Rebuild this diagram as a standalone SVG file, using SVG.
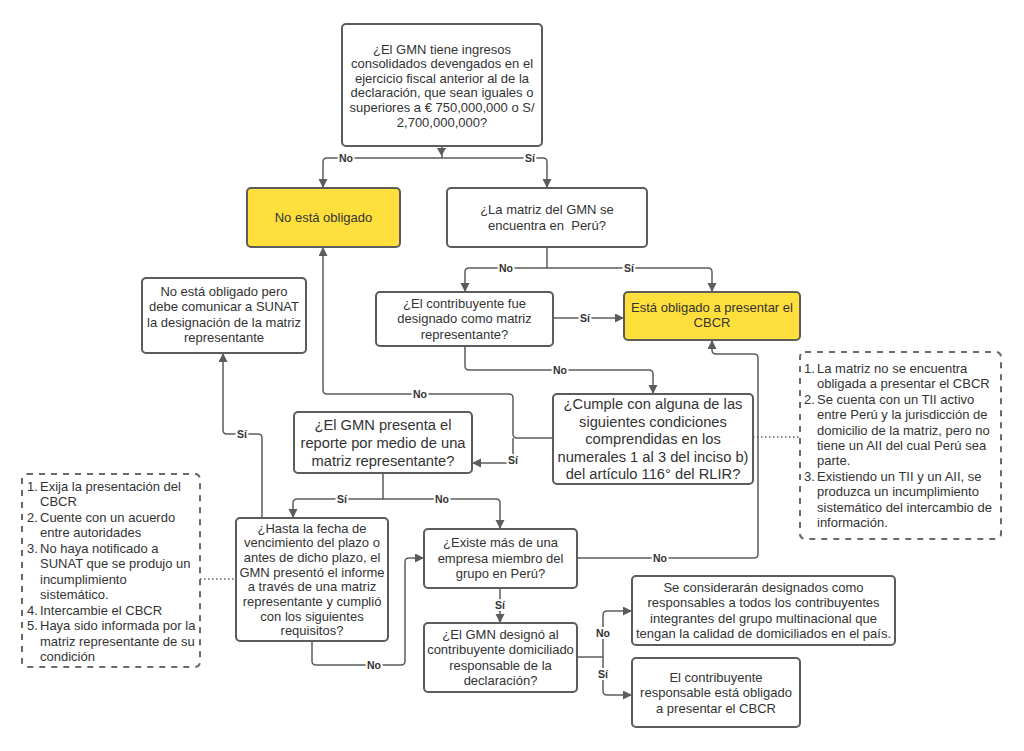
<svg xmlns="http://www.w3.org/2000/svg" width="1024" height="751" viewBox="0 0 1024 751">
<defs>
<marker id="ah" markerWidth="10" markerHeight="10" refX="9" refY="4.5" orient="auto" markerUnits="userSpaceOnUse">
<path d="M0,0 L9,4.5 L0,9 Z" fill="#5c5c5c"/>
</marker>
<style>
.box{fill:#fff;stroke:#5c5c5c;stroke-width:2}
.yel{fill:#ffdf3c;stroke:#5c5c5c;stroke-width:2}
.note{fill:#fff;stroke:#6a6a6a;stroke-width:2;stroke-dasharray:6 6}
.t{font-family:"Liberation Sans",Arial,sans-serif;font-size:13px;fill:#333;text-anchor:middle}
.tb{font-family:"Liberation Sans",Arial,sans-serif;font-size:14.7px;fill:#333;text-anchor:middle}
.nt{font-family:"Liberation Sans",Arial,sans-serif;font-size:13px;fill:#333}
.c{fill:none;stroke:#5c5c5c;stroke-width:1.5;marker-end:url(#ah)}
.cn{fill:none;stroke:#5c5c5c;stroke-width:1.5}
.d{fill:none;stroke:#5c5c5c;stroke-width:1.5;stroke-dasharray:1.5 2.5}
.l{font-family:"Liberation Sans",Arial,sans-serif;font-size:10.5px;font-weight:bold;fill:#333;text-anchor:middle;stroke:#fff;stroke-width:4;paint-order:stroke}
</style>
</defs>
<rect width="1024" height="751" fill="#fff"/>

<g id="connectors">
<polygon points="437,148 446,148 441.5,156" fill="#5c5c5c"/>
<path class="c" d="M442,147 V158 H327 Q323,158 323,162 V188"/>
<path class="c" d="M442,158 H543 Q547,158 547,162 V188"/>
<path class="c" d="M547,247 V268 H469 Q465,268 465,272 V292"/>
<path class="c" d="M547,268 H708 Q712,268 712,272 V292"/>
<path class="c" d="M553,318 H624"/>
<path class="c" d="M465,346 V366 Q465,370 469,370 H649 Q653,370 653,374 V394"/>
<path class="c" d="M553,438 H517 Q513,438 513,434 V398 Q513,394 509,394 H327 Q323,394 323,390 V247"/>
<path class="c" d="M513,438 V459 Q513,463 509,463 H472"/>
<path class="c" d="M383,473 V499 H297 Q293,499 293,503 V518"/>
<path class="c" d="M383,499 H496 Q500,499 500,503 V529"/>
<path class="c" d="M262,518 V438 Q262,434 258,434 H227 Q223,434 223,430 V353"/>
<path class="c" d="M312,641 V661 Q312,665 316,665 H401 Q405,665 405,661 V562 Q405,558 409,558 H424"/>
<path class="c" d="M500,588 V623"/>
<path class="c" d="M577,558 H754 Q758,558 758,554 V358 Q758,354 754,354 H716 Q712,354 712,350 V340"/>
<path class="cn" d="M577,657 H603"/>
<path class="c" d="M603,657 V615 Q603,611 607,611 H632"/>
<path class="c" d="M603,657 V691 Q603,695 607,695 H632"/>
<path class="d" d="M753,437 H800"/>
<path class="d" d="M200,579 H236"/>
<text class="l" x="346" y="162">No</text>
<text class="l" x="530" y="162">Sí</text>
<text class="l" x="506" y="272">No</text>
<text class="l" x="629" y="272">Sí</text>
<text class="l" x="585" y="322">Sí</text>
<text class="l" x="560" y="374">No</text>
<text class="l" x="420" y="398">No</text>
<text class="l" x="513" y="464">Sí</text>
<text class="l" x="342" y="503">Sí</text>
<text class="l" x="442" y="503">No</text>
<text class="l" x="242" y="438">Sí</text>
<text class="l" x="374" y="669">No</text>
<text class="l" x="500" y="609">Sí</text>
<text class="l" x="660" y="562">No</text>
<text class="l" x="603" y="637">No</text>
<text class="l" x="603" y="678">Sí</text>
</g>

<g id="n_top">
<rect class="box" x="342" y="24" width="200" height="122" rx="4"/>
<text class="t" x="442" y="53.5">¿El GMN tiene ingresos</text>
<text class="t" x="442" y="68.1">consolidados devengados en el</text>
<text class="t" x="442" y="82.7">ejercicio fiscal anterior al de la</text>
<text class="t" x="442" y="97.3">declaración, que sean iguales o</text>
<text class="t" x="442" y="111.9">superiores a € 750,000,000 o S/</text>
<text class="t" x="442" y="126.5">2,700,000,000?</text>
</g>

<g id="n_no_obligado">
<rect class="yel" x="247" y="188" width="153" height="59" rx="4"/>
<text class="t" x="323.5" y="222">No está obligado</text>
</g>

<g id="n_matriz_peru">
<rect class="box" x="447" y="188" width="200" height="59" rx="4"/>
<text class="t" x="547" y="214">¿La matriz del GMN se</text>
<text class="t" x="547" y="230">encuentra en&#160; Perú?</text>
</g>

<g id="n_contribuyente">
<rect class="box" x="376" y="292" width="177" height="54" rx="4"/>
<text class="t" x="464.5" y="307.5">¿El contribuyente fue</text>
<text class="t" x="464.5" y="323">designado como matriz</text>
<text class="t" x="464.5" y="338.5">representante?</text>
</g>

<g id="n_obligado">
<rect class="yel" x="624" y="292" width="176" height="48" rx="4"/>
<text class="t" x="712" y="311.5">Está obligado a presentar el</text>
<text class="t" x="712" y="327">CBCR</text>
</g>

<g id="n_no_obligado_pero">
<rect class="box" x="142" y="278" width="164" height="75" rx="4"/>
<text class="t" x="224" y="295.5">No está obligado pero</text>
<text class="t" x="224" y="311">debe comunicar a SUNAT</text>
<text class="t" x="224" y="326.5">la designación de la matriz</text>
<text class="t" x="224" y="342">representante</text>
</g>

<g id="n_cumple">
<rect class="box" x="553" y="394" width="200" height="90" rx="4"/>
<text class="tb" x="653" y="409.3">¿Cumple con alguna de las</text>
<text class="tb" x="653" y="426.8">siguientes condiciones</text>
<text class="tb" x="653" y="444.3">comprendidas en los</text>
<text class="tb" x="653" y="461.8">numerales 1 al 3 del inciso b)</text>
<text class="tb" x="653" y="479.3">del artículo 116° del RLIR?</text>
</g>

<g id="n_presenta">
<rect class="box" x="294" y="412" width="178" height="61" rx="4"/>
<text class="tb" x="383" y="429.8">¿El GMN presenta el</text>
<text class="tb" x="383" y="447.8">reporte por medio de una</text>
<text class="tb" x="383" y="465.8">matriz representante?</text>
</g>

<g id="n_nota_der">
<rect class="note" x="800" y="352" width="201" height="187" rx="5"/>
<text class="nt" x="804" y="373">1.</text><text class="nt" x="817" y="373">La matriz no se encuentra</text>
<text class="nt" x="817" y="388.4">obligada a presentar el CBCR</text>
<text class="nt" x="804" y="403.8">2.</text><text class="nt" x="817" y="403.8">Se cuenta con un TII activo</text>
<text class="nt" x="817" y="419.2">entre Perú y la jurisdicción de</text>
<text class="nt" x="817" y="434.6">domicilio de la matriz, pero no</text>
<text class="nt" x="817" y="450">tiene un AII del cual Perú sea</text>
<text class="nt" x="817" y="465.4">parte.</text>
<text class="nt" x="804" y="480.8">3.</text><text class="nt" x="817" y="480.8">Existiendo un TII y un AII, se</text>
<text class="nt" x="817" y="496.2">produzca un incumplimiento</text>
<text class="nt" x="817" y="511.6">sistemático del intercambio de</text>
<text class="nt" x="817" y="527">información.</text>
</g>

<g id="n_nota_izq">
<rect class="note" x="22" y="474" width="178" height="193" rx="5"/>
<text class="nt" x="27" y="490.5">1.</text><text class="nt" x="40" y="490.5">Exija la presentación del</text>
<text class="nt" x="40" y="506">CBCR</text>
<text class="nt" x="27" y="521.5">2.</text><text class="nt" x="40" y="521.5">Cuente con un acuerdo</text>
<text class="nt" x="40" y="537">entre autoridades</text>
<text class="nt" x="27" y="552.5">3.</text><text class="nt" x="40" y="552.5">No haya notificado a</text>
<text class="nt" x="40" y="568">SUNAT que se produjo un</text>
<text class="nt" x="40" y="583.5">incumplimiento</text>
<text class="nt" x="40" y="599">sistemático.</text>
<text class="nt" x="27" y="614.5">4.</text><text class="nt" x="40" y="614.5">Intercambie el CBCR</text>
<text class="nt" x="27" y="630">5.</text><text class="nt" x="40" y="630">Haya sido informada por la</text>
<text class="nt" x="40" y="645.5">matriz representante de su</text>
<text class="nt" x="40" y="661">condición</text>
</g>

<g id="n_hasta">
<rect class="box" x="236" y="518" width="152" height="123" rx="4"/>
<text class="t" x="312" y="532.5">¿Hasta la fecha de</text>
<text class="t" x="312" y="547.2">vencimiento del plazo o</text>
<text class="t" x="312" y="561.9">antes de dicho plazo, el</text>
<text class="t" x="312" y="576.6">GMN presentó el informe</text>
<text class="t" x="312" y="591.3">a través de una matriz</text>
<text class="t" x="312" y="606">representante y cumplió</text>
<text class="t" x="312" y="620.7">con los siguientes</text>
<text class="t" x="312" y="635.4">requisitos?</text>
</g>

<g id="n_existe">
<rect class="box" x="424" y="529" width="153" height="59" rx="4"/>
<text class="t" x="500.5" y="546.7">¿Existe más de una</text>
<text class="t" x="500.5" y="562.5">empresa miembro del</text>
<text class="t" x="500.5" y="578.3">grupo en Perú?</text>
</g>

<g id="n_designo">
<rect class="box" x="424" y="623" width="153" height="69" rx="4"/>
<text class="t" x="500.5" y="639">¿El GMN designó al</text>
<text class="t" x="500.5" y="654.3">contribuyente domiciliado</text>
<text class="t" x="500.5" y="669.6">responsable de la</text>
<text class="t" x="500.5" y="684.9">declaración?</text>
</g>

<g id="n_consideraran">
<rect class="box" x="632" y="576" width="263" height="69" rx="4"/>
<text class="t" x="763.5" y="592">Se considerarán designados como</text>
<text class="t" x="763.5" y="607.3">responsables a todos los contribuyentes</text>
<text class="t" x="763.5" y="622.6">integrantes del grupo multinacional que</text>
<text class="t" x="763.5" y="637.9">tengan la calidad de domiciliados en el país.</text>
</g>

<g id="n_responsable">
<rect class="box" x="632" y="658" width="168" height="69" rx="4"/>
<text class="t" x="716" y="681.5">El contribuyente</text>
<text class="t" x="716" y="697">responsable está obligado</text>
<text class="t" x="716" y="712.5">a presentar el CBCR</text>
</g>
</svg>
